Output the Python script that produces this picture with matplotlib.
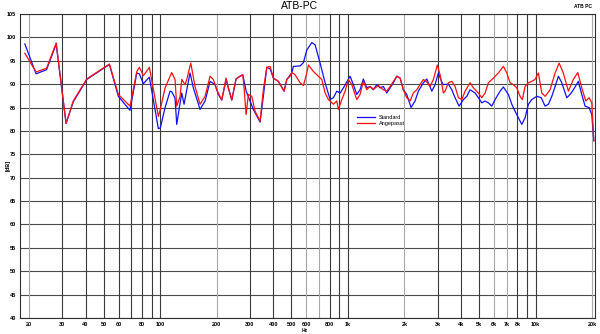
import matplotlib
matplotlib.use("Agg")
import matplotlib.pyplot as plt

plt.rcParams['font.family'] = ['Liberation Sans', 'DejaVu Sans']

# Standard (blue)
std_f = [19.0, 21.8, 24.8, 27.9, 31.5, 34.4, 40.6, 47.8, 53.6, 59.8, 69.0, 75.0, 77.4, 81.3, 87.5,
         97.7, 100, 106.1, 112.8, 115.1, 119.9, 122.4, 126.4, 130.2, 133.9, 138.4, 144.1, 150.1,
         162.9, 173.3, 184.2, 195.8, 204, 212.6, 224.2, 230.6, 240.4, 253.4, 266.2, 275.2, 287,
         313.3, 340.3, 354.3, 369.4, 384.6, 400.5, 425.9, 456.6, 472.1, 502, 511.9, 555.9, 579,
         603.6, 641.7, 668.2, 710.4, 755.5, 803.2, 836.4, 872, 908.1, 945.5, 1026, 1068.5, 1114,
         1159.8, 1207.7, 1259, 1310, 1365.6, 1423.8, 1482.7, 1544, 1610, 1676.8, 1746, 1820.6,
         1895.6, 1973.2, 2057, 2168, 2277, 2371, 2521, 2629, 2797, 2911, 3031, 3150, 3222, 3427,
         3573, 3721, 3908, 4120, 4300, 4471, 4756, 4951, 5163, 5376, 5598, 5836, 6077, 6461,
         6728, 7154, 7458, 7767, 8087, 8431, 8780, 9143, 9532, 10134, 10700, 11221, 11688,
         12186, 12690, 13214, 13772, 14640, 15252, 15870, 16880, 17600, 18330, 19250, 19900, 20400]
std_db = [98.6, 92.2, 93.1, 98.6, 81.6, 86.2, 91.0, 92.9, 94.2, 87.4, 84.4, 92.4, 92.2, 90.1, 91.5,
          80.5, 80.6, 85.0, 88.5, 88.4, 87.0, 81.4, 85.0, 88.1, 85.7, 88.8, 92.4, 89.2,
          84.6, 86.4, 90.6, 89.9, 87.8, 86.6, 91.0, 89.2, 86.6, 91.1, 91.7, 92.0, 88.5,
          84.6, 81.9, 87.5, 93.6, 93.3, 91.3, 90.6, 88.5, 91.0, 92.4, 93.8, 93.9, 94.6,
          97.3, 98.9, 98.4, 94.5, 90.3, 86.7, 87.1, 88.5, 88.1, 89.2, 91.7, 89.9, 87.8,
          88.8, 91.1, 89.2, 89.5, 88.8, 89.9, 89.2, 89.5, 88.1, 89.2, 90.3, 91.7,
          91.3, 88.8, 87.8, 85.0, 86.4, 88.5, 90.3, 91.1, 88.5, 89.9, 92.4, 90.6, 89.9, 90.0,
          88.8, 87.1, 85.3, 86.7, 87.4, 88.8, 88.1, 87.1, 86.0, 86.4, 86.0, 85.3, 86.7, 88.5,
          89.4, 87.8, 85.7, 84.2, 82.8, 81.4, 82.8, 85.7, 86.7, 87.4, 87.1, 85.3, 85.7,
          87.4, 89.5, 91.7, 90.3, 87.1, 87.8, 88.8, 90.6, 87.8, 85.3, 85.0, 83.5, 78.0]

# Angepasst (red)
adj_f = [19.0, 21.8, 24.8, 27.9, 31.5, 34.4, 40.6, 47.8, 53.6, 59.8, 69.0, 75.0, 77.4, 81.3, 87.5,
         97.7, 100, 106.1, 115.1, 119.9, 122.4, 127.5, 130.2, 135.6, 138.4, 145.4, 153.2, 162.9,
         173.3, 184.2, 191.8, 200, 212.6, 224.2, 230.6, 240.4, 253.4, 266.2, 275.2, 279.6, 286.5,
         294.7, 307.3, 320, 340.3, 354.3, 369.4, 384.6, 400.5, 425.9, 456.6, 472.1, 491.6, 502,
         522.9, 555.9, 579, 603.6, 615.5, 654.5, 695.8, 725.3, 755.5, 786.7, 836.4, 872, 889.3,
         927.1, 965.7, 1004.9, 1048, 1114, 1159.8, 1207.7, 1259, 1310, 1365.6, 1452, 1544, 1610,
         1676.8, 1746, 1820.6, 1895.6, 1973.2, 2057, 2142, 2230, 2325, 2422, 2521, 2629, 2738,
         2851, 2995, 3095, 3222, 3290, 3427, 3573, 3721, 3875, 4040, 4207, 4471, 4658, 4951,
         5163, 5376, 5598, 5952, 6328, 6728, 7016, 7304, 7607, 7930, 8258, 8493, 8780, 9143,
         9532, 9926, 10336, 10776, 11221, 11935, 12690, 13327, 14027, 14933, 15870, 16757,
         17600, 18486, 19250, 19900, 20400]
adj_db = [96.6, 92.6, 93.4, 98.8, 81.6, 86.4, 91.1, 93.0, 94.3, 87.8, 85.3, 92.7, 93.6, 91.8, 93.6,
          83.1, 84.6, 89.2, 92.5, 91.0, 85.3, 87.4, 91.0, 89.9, 91.0, 94.5, 89.5, 85.7,
          87.4, 91.7, 91.0, 88.8, 86.6, 91.3, 89.2, 86.6, 91.1, 91.7, 92.0, 89.2, 83.5,
          87.8, 87.4, 84.2, 82.1, 88.8, 93.6, 93.8, 91.3, 90.6, 88.5, 91.0, 91.7, 92.5,
          92.0, 90.3, 89.7, 92.4, 94.1, 92.7, 91.7, 91.0, 88.1, 86.7, 85.7, 86.4, 84.6,
          86.7, 88.5, 91.0, 89.9, 86.7, 87.8, 90.6, 88.8, 89.5, 88.9, 89.7, 88.8, 88.5,
          89.5, 90.6, 91.7, 91.3, 88.8, 87.1, 86.4, 88.1, 88.8, 89.9, 91.0, 90.5, 89.5,
          91.0, 94.1, 92.0, 88.1, 88.5, 90.3, 90.6, 89.5, 87.1, 86.7, 88.5, 90.3, 89.2, 88.1,
          87.1, 88.1, 90.3, 91.3, 92.4, 93.8, 92.4, 90.3, 89.9, 89.2, 87.4, 86.7, 89.5, 90.3,
          90.6, 91.0, 92.4, 88.1, 87.4, 88.8, 92.4, 94.5, 92.4, 88.5, 91.0, 92.5,
          89.2, 86.4, 87.1, 86.0, 77.8]

xtick_vals = [20, 30, 40, 50, 60, 80, 100, 200, 300, 400, 500, 600, 800, 1000, 2000, 3000,
              4000, 5000, 6000, 7000, 8000, 10000, 20000]
xtick_labels = ['20', '30', '40', '50', '60', '80', '100', '200', '300', '400', '500', '600', '800',
                '1k', '2k', '3k', '4k', '5k', '6k', '7k', '8k', '10k', '20k']
xgrid_dark = [30, 40, 50, 60, 70, 80, 90, 100, 300, 400, 500, 800, 900, 1000, 3000, 4000, 5000,
              8000, 9000, 10000]
xgrid_light = [20, 200, 600, 700, 2000, 6000, 7000, 20000]
ytick_vals = list(range(40, 106, 5))

W, H = 600, 334
fig = plt.figure(figsize=(W / 100, H / 100), dpi=100)
ax = fig.add_axes([20 / W, 1 - 318 / H, 575 / W, 304 / H])
ax.set_xscale('log')
ax.set_xlim(17.9, 20700)
ax.set_ylim(40, 105)

for v in ytick_vals:
    ax.axhline(v, color='#4a4a4a', lw=0.8, zorder=1)
for v in xgrid_dark:
    ax.axvline(v, color='#3a3a3a', lw=0.8, zorder=1)
for v in xgrid_light:
    ax.axvline(v, color='#a8a8a8', lw=0.8, zorder=1)

ax.plot(adj_f, adj_db, color='#ff1010', lw=0.9, label='Angepasst', zorder=3)
ax.plot(std_f, std_db, color='#1010ff', lw=0.9, label='Standard', zorder=2)

ax.set_xticks(xtick_vals)
ax.set_xticklabels(xtick_labels)
ax.xaxis.set_minor_locator(matplotlib.ticker.NullLocator())
ax.set_yticks(ytick_vals)
ax.tick_params(axis='both', length=0, labelsize=4, pad=3)
for lab in ax.get_xticklabels() + ax.get_yticklabels():
    lab.set_fontweight('bold')

for s in ax.spines.values():
    s.set_color('#303030')
    s.set_linewidth(0.8)

h, l = ax.get_legend_handles_labels()
ax.legend(h[::-1], l[::-1], loc='upper left', bbox_to_anchor=(0.577, 0.685), frameon=False,
          fontsize=4, handlelength=3.2, handletextpad=0.8, labelspacing=0.3)

fig.text(0.5, 1 - 6 / H, 'ATB-PC', ha='center', va='center', fontsize=7.5)
fig.text(592 / W, 1 - 7 / H, 'ATB PC', ha='right', va='center', fontsize=3.5, fontweight='bold')
fig.text(8 / W, 1 - 165 / H, '[dB]', ha='center', va='center', rotation=90, fontsize=4,
         fontweight='bold')
fig.text(305 / W, 1 - 330.5 / H, 'Hz', ha='center', va='center', fontsize=3.5, fontweight='bold')

fig.savefig('out.png', dpi=100)
